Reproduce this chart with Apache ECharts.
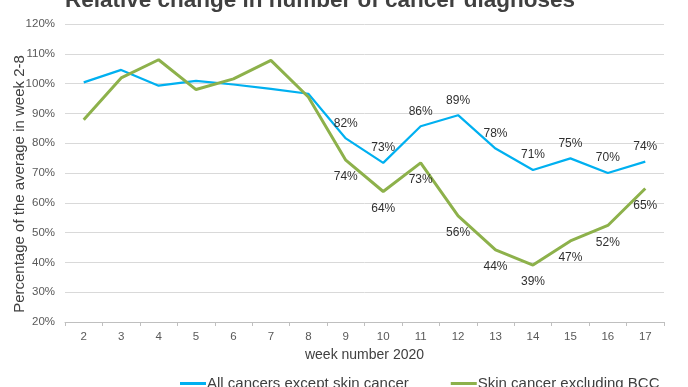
<!DOCTYPE html>
<html>
<head>
<meta charset="utf-8">
<script src="https://cdn.jsdelivr.net/npm/echarts@6/dist/echarts.min.js"></script>
<style>html,body{margin:0;padding:0;background:#fff;}#c{width:688px;height:387px;}</style>
</head>
<body>
<div id="c"></div>
<script>
const weeks = ['2','3','4','5','6','7','8','9','10','11','12','13','14','15','16','17'];
const allCancers = [100.4, 104.6, 99.3, 100.9, 99.7, 98.2, 96.6, 81.6, 73.4, 85.7, 89.4, 78.2, 71.0, 74.9, 70.0, 73.8];
const skinCancer = [87.9, 101.9, 108.0, 98.0, 101.6, 107.8, 95.5, 74.3, 63.8, 73.4, 55.6, 44.2, 39.1, 47.2, 52.4, 64.8];
const labelFrom = 7; // labels shown from week 9
const seriesNames = ['All cancers except skin cancer', 'Skin cancer excluding BCC'];

const chart = echarts.init(document.getElementById('c'), null, {renderer: 'canvas'});
function withLabels(arr) {
  return arr.map((v, i) => ({value: v, label: {show: i >= labelFrom}}));
}
const font = 'Liberation Sans, Arial, sans-serif';
chart.setOption({
  animation: false,
  textStyle: {fontFamily: font},
  title: {
    text: 'Relative change in number of cancer diagnoses',
    left: 315, textAlign: 'center', top: -16,
    textStyle: {fontSize: 22.5, fontWeight: 'bold', color: '#404040', fontFamily: font}
  },
  grid: {left: 65, right: 24, top: 24, bottom: 65, outerBoundsMode: 'none', containLabel: false},
  legend: {
    bottom: -9, left: 175, itemGap: 42, itemWidth: 26, itemHeight: 3,
    icon: 'rect',
    textStyle: {fontSize: 15, color: '#404040', fontFamily: font, padding: [0, 0, 0, -4]},
    data: seriesNames
  },
  xAxis: {
    type: 'category', data: weeks, boundaryGap: true,
    name: 'week number 2020', nameLocation: 'middle', nameGap: 26,
    nameTextStyle: {fontSize: 14, color: '#404040', fontFamily: font},
    axisLine: {lineStyle: {color: '#bfbfbf', width: 1}},
    axisTick: {show: true, length: 4, lineStyle: {color: '#bfbfbf'}},
    axisLabel: {fontSize: 11.5, color: '#595959', margin: 9, fontFamily: font}
  },
  yAxis: {
    type: 'value', min: 20, max: 120, interval: 10,
    name: 'Percentage of the average in week 2-8', nameLocation: 'middle', nameGap: 38,
    nameMoveOverlap: false,
    nameTextStyle: {fontSize: 15, color: '#404040', fontFamily: font, padding: [0, 22, 0, 0]},
    axisLine: {show: false}, axisTick: {show: false},
    axisLabel: {formatter: '{value}%', fontSize: 11.5, color: '#595959', margin: 10, fontFamily: font},
    splitLine: {lineStyle: {color: '#d9d9d9', width: 1}}
  },
  series: [
    {
      name: seriesNames[0], type: 'line', data: withLabels(allCancers),
      symbol: 'circle', symbolSize: 0, showSymbol: true,
      lineStyle: {color: '#00B0F0', width: 2.2}, itemStyle: {color: '#00B0F0'},
      label: {position: 'top', distance: 9, fontSize: 12, color: '#303030', fontFamily: font,
        formatter: p => Math.round(p.value) + '%'}
    },
    {
      name: seriesNames[1], type: 'line', data: withLabels(skinCancer),
      symbol: 'circle', symbolSize: 0, showSymbol: true,
      lineStyle: {color: '#8DB14B', width: 3}, itemStyle: {color: '#8DB14B'},
      label: {position: 'bottom', distance: 11, fontSize: 12, color: '#303030', fontFamily: font,
        formatter: p => Math.round(p.value) + '%'}
    }
  ]
});
</script>
</body>
</html>
